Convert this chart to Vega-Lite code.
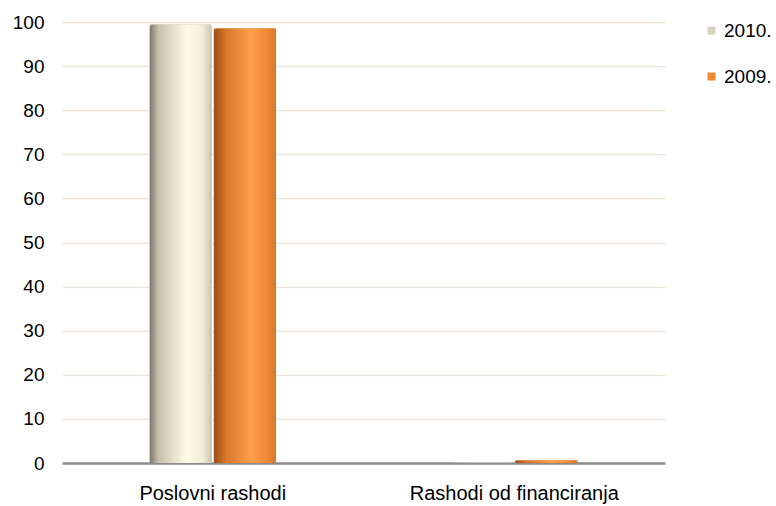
{
  "$schema": "https://vega.github.io/schema/vega-lite/v6.json",
  "autosize": {"type": "none"},
  "padding": {"left": 62, "top": 22, "right": 111, "bottom": 43},
  "width": 603,
  "height": 441,
  "background": "white",
  "config": {"view": {"stroke": null}, "font": "Liberation Sans"},
  "data": {"values": [
    {"category": "Poslovni rashodi", "year": "2010.", "value": 99.5},
    {"category": "Poslovni rashodi", "year": "2009.", "value": 98.6},
    {"category": "Rashodi od financiranja", "year": "2010.", "value": 0.1},
    {"category": "Rashodi od financiranja", "year": "2009.", "value": 0.6}
  ]},
  "encoding": {
    "x": {"field": "category", "type": "nominal", "sort": null,
      "scale": {"paddingInner": 0.58, "paddingOuter": 0.29},
      "axis": {"title": null, "labelAngle": 0, "labelFontSize": 20, "labelColor": "#000", "labelLimit": 400, "ticks": false, "domainColor": "#8c8c8c", "domainWidth": 2.5, "labelPadding": 20}},
    "xOffset": {"field": "year", "type": "nominal", "sort": ["2010.", "2009."], "scale": {"paddingInner": 0.03}},
    "y": {"field": "value", "type": "quantitative",
      "scale": {"domain": [0, 100], "nice": false},
      "axis": {"title": null, "values": [0,10,20,30,40,50,60,70,80,90,100], "labelFontSize": 19, "labelColor": "#000", "ticks": false, "domain": false, "gridColor": "#ECE6D8", "gridWidth": 1.5, "labelPadding": 18}}
  },
  "layer": [
    {
      "mark": {"type": "bar"},
      "encoding": {
        "color": {"field": "year", "type": "nominal", "sort": ["2010.", "2009."],
          "scale": {"domain": ["2010.", "2009."], "range": ["#D6D2C4", "#EE8A35"]},
          "legend": {"title": null, "orient": "none", "legendX": 640, "legendY": -1, "symbolType": "square", "symbolSize": 64, "labelFontSize": 19, "labelColor": "#000", "labelLimit": 200, "rowPadding": 26, "labelOffset": 3}}
      }
    },
    {
      "transform": [{"filter": "datum.year === '2010.'"}],
      "mark": {"type": "bar", "cornerRadiusTopLeft": 4, "cornerRadiusTopRight": 4,
        "fill": {"gradient": "linear", "x1": 0, "y1": 0, "x2": 1, "y2": 0,
          "stops": [{"offset": 0, "color": "#7d7668"}, {"offset": 0.15, "color": "#c8c2ae"}, {"offset": 0.6, "color": "#fffbe8"}, {"offset": 0.85, "color": "#f2edd9"}, {"offset": 1, "color": "#c9c3b0"}]}}
    },
    {
      "transform": [{"filter": "datum.year === '2009.'"}],
      "mark": {"type": "bar", "cornerRadiusTopLeft": 4, "cornerRadiusTopRight": 4,
        "fill": {"gradient": "linear", "x1": 0, "y1": 0, "x2": 1, "y2": 0,
          "stops": [{"offset": 0, "color": "#9a4c15"}, {"offset": 0.2, "color": "#d9772a"}, {"offset": 0.6, "color": "#ff9f4c"}, {"offset": 0.85, "color": "#ef8a36"}, {"offset": 1, "color": "#d8782c"}]}}
    }
  ]
}
